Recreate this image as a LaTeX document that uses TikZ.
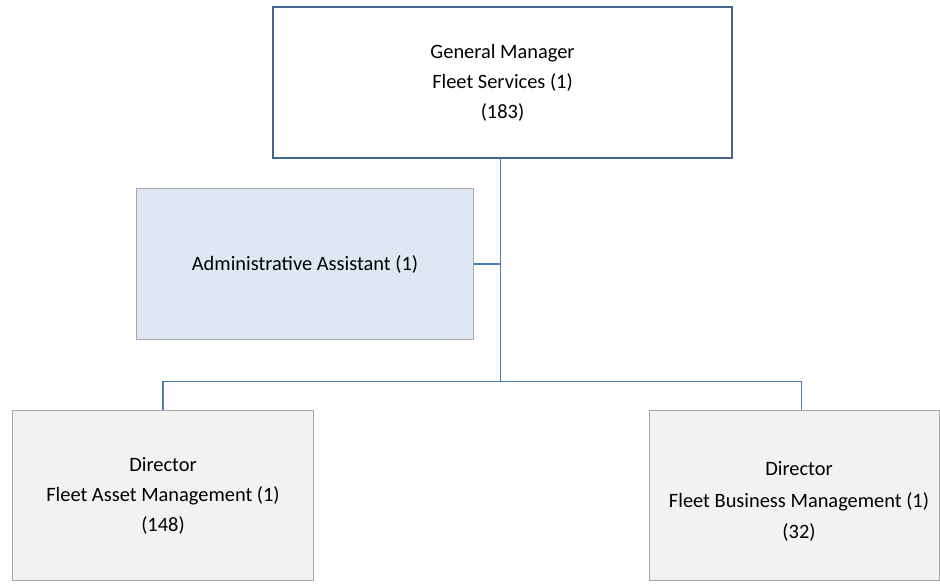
\documentclass[tikz,border=0pt]{standalone}
\usepackage{fontspec}
\setmainfont{Carlito}
\definecolor{topborder}{HTML}{41668F}
\definecolor{adminfill}{HTML}{DEE8F4}
\definecolor{grayborder}{HTML}{A6A6A6}
\definecolor{dirfill}{HTML}{F2F2F2}
\definecolor{linkcol}{HTML}{4A7EBB}
\begin{document}
\begin{tikzpicture}[x=1pt,y=-1pt,
  box/.style={rectangle, inner sep=0pt, align=center, font=\fontsize{20.4}{30}\selectfont, anchor=north west},
  link/.style={draw=linkcol, line width=1.3pt}]
\useasboundingbox (0,0) rectangle (940,584);
\node[box, draw=topborder, line width=2pt, fill=white, minimum width=459pt, minimum height=151pt] (gm) at (272,6) {General Manager\\Fleet Services (1)\\(183)};
\node[box, draw=grayborder, line width=1pt, fill=adminfill, minimum width=337pt, minimum height=151pt] (aa) at (136,188) {Administrative Assistant (1)};
\node[box, draw=grayborder, line width=1pt, fill=dirfill, minimum width=301pt, minimum height=170pt] (fam) at (12,410) {Director\\Fleet Asset Management (1)\\(148)};
\node[box, draw=grayborder, line width=1pt, fill=dirfill, minimum width=290pt, minimum height=170pt] (fbm) at (649,410) {};
\node[inner sep=0pt, align=center, font=\fontsize{20.4}{31.5}\selectfont] (fbmtext) at ([xshift=4.5pt,yshift=-6pt]fbm.center) {Director\\Fleet Business Management (1)\\(32)};
\coordinate (bus) at (500.5,381.5);
\draw[link] (gm.south -| bus) -- (bus);
\draw[link] (aa.east) -- (aa.east -| bus);
\draw[link] (bus) -| (fam.north);
\draw[link] (bus) -| ([xshift=7pt]fbm.north);
\end{tikzpicture}
\end{document}
